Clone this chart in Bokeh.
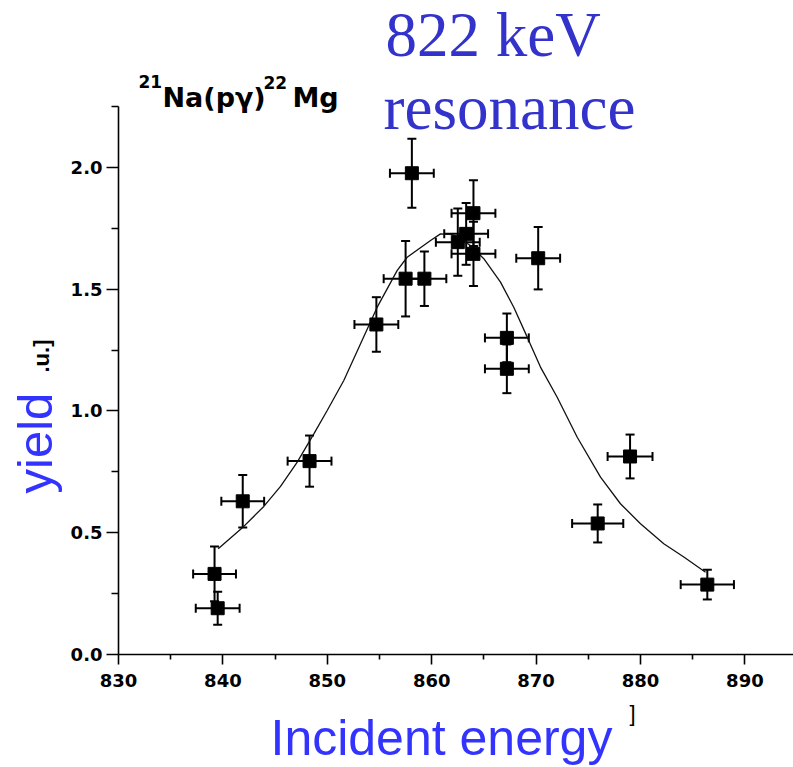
from math import pi

from bokeh.embed import file_html
from bokeh.models import (ColumnDataSource, FixedTicker, Label, PrintfTickFormatter,
                          Range1d, TeeHead, Whisker)
from bokeh.plotting import figure
from bokeh.resources import INLINE

# Measured yield of the 21Na(p,gamma)22Mg resonance scan
energy = [839.2, 839.5, 841.9, 848.3, 854.7, 857.5, 859.3, 858.1, 862.5,
          863.3, 864.0, 864.0, 870.2, 867.2, 867.2, 879.0, 875.9, 886.4]
yield_au = [0.331, 0.190, 0.629, 0.794, 1.355, 1.543, 1.543, 1.976, 1.693,
            1.727, 1.812, 1.645, 1.627, 1.300, 1.173, 0.813, 0.538, 0.287]
yield_err = [0.112, 0.068, 0.108, 0.105, 0.112, 0.155, 0.112, 0.142, 0.138,
             0.127, 0.135, 0.132, 0.128, 0.100, 0.100, 0.090, 0.078, 0.061]
energy_err = [2.05, 2.10, 2.05, 2.10, 2.10, 2.10, 2.10, 2.10, 2.10,
              2.10, 2.10, 2.10, 2.10, 2.10, 2.10, 2.15, 2.45, 2.55]

# Fitted yield curve
fit_energy = [839.55, 842.0, 843.92, 845.52, 847.12, 848.71, 849.99, 851.58,
              854.78, 856.70, 857.65, 859.89, 860.84, 862.0, 863.72, 864.99,
              866.59, 867.86, 869.15, 870.42, 872.02, 873.94, 876.17, 878.08,
              880.0, 882.23, 884.15, 886.23]
fit_yield = [0.434, 0.526, 0.608, 0.690, 0.790, 0.906, 1.002, 1.125,
             1.426, 1.577, 1.631, 1.700, 1.727, 1.724, 1.679, 1.625,
             1.529, 1.426, 1.303, 1.180, 1.056, 0.892, 0.728, 0.619,
             0.537, 0.455, 0.400, 0.338]

x_ticks = [830, 840, 850, 860, 870, 880, 890]
x_minor = [835, 845, 855, 865, 875, 885]
y_ticks = [0.0, 0.5, 1.0, 1.5, 2.0]
y_minor = [0.25, 0.75, 1.25, 1.75, 2.25]

# axes extents (the axes cross at 830 / 0.0)
X_AXIS_START, Y_AXIS_END = 830.0, 2.25

# canvas and scale: the data frame fills the whole canvas so that every
# annotation (titles outside the axes) stays visible
W, H = 793, 767
PX_PER_KEV = 10.44
PX_PER_UNIT = 243.56
ORIGIN_PX = (118, 654)          # canvas pixel of (830, 0.0)

X0 = X_AXIS_START - ORIGIN_PX[0] / PX_PER_KEV
X1 = X_AXIS_START + (W - ORIGIN_PX[0]) / PX_PER_KEV
Y0 = -(H - ORIGIN_PX[1]) / PX_PER_UNIT
Y1 = ORIGIN_PX[1] / PX_PER_UNIT

# the svg text baseline sits lower than the font's alphabetic line;
# pull each label back by this fraction of its font size
BASELINE_SHIFT = 0.37


def px(xp, yp):
    """Canvas pixel position -> data coordinates (for annotation placement)."""
    return X0 + xp / PX_PER_KEV, Y1 - yp / PX_PER_UNIT


p = figure(width=W, height=H, output_backend="svg", toolbar_location=None,
           x_range=Range1d(X0, X1), y_range=Range1d(Y0, Y1),
           min_border=0, background_fill_color="white",
           border_fill_color="white")
p.outline_line_color = None
p.grid.visible = False

for ax in (p.xaxis[0], p.yaxis[0]):
    ax.axis_line_color = "black"
    ax.axis_line_width = 1.6
    ax.major_tick_line_color = "black"
    ax.major_tick_line_width = 1.6
    ax.minor_tick_line_color = "black"
    ax.minor_tick_line_width = 1.6
    ax.major_tick_in = 0
    ax.minor_tick_in = 0
    ax.major_label_text_font = "DejaVu Sans"
    ax.major_label_text_font_style = "bold"
    ax.major_label_text_font_size = "18px"
    ax.major_label_text_color = "black"

p.xaxis.fixed_location = 0.0
p.xaxis.bounds = (X_AXIS_START, X1)
p.xaxis.ticker = FixedTicker(ticks=x_ticks, minor_ticks=x_minor)
p.xaxis.formatter = PrintfTickFormatter(format="%d")
p.xaxis.major_tick_out = 10
p.xaxis.minor_tick_out = 5
p.xaxis.major_label_standoff = 9

p.yaxis.fixed_location = X_AXIS_START
p.yaxis.bounds = (0.0, Y_AXIS_END)
p.yaxis.ticker = FixedTicker(ticks=y_ticks, minor_ticks=y_minor)
p.yaxis.formatter = PrintfTickFormatter(format="%.1f")
p.yaxis.major_tick_out = 12
p.yaxis.minor_tick_out = 7
p.yaxis.major_label_standoff = 4

src = ColumnDataSource(data=dict(
    x=energy, y=yield_au,
    y_lo=[v - e for v, e in zip(yield_au, yield_err)],
    y_hi=[v + e for v, e in zip(yield_au, yield_err)],
    x_lo=[v - e for v, e in zip(energy, energy_err)],
    x_hi=[v + e for v, e in zip(energy, energy_err)],
))

p.line(fit_energy, fit_yield, line_color="#111111", line_width=1.3)

for dim, base, lo, hi in (("height", "x", "y_lo", "y_hi"), ("width", "y", "x_lo", "x_hi")):
    w = Whisker(source=src, base=base, lower=lo, upper=hi, dimension=dim,
                line_color="black", line_width=2,
                upper_head=TeeHead(size=9, line_color="black", line_width=2),
                lower_head=TeeHead(size=9, line_color="black", line_width=2))
    p.add_layout(w)

p.scatter("x", "y", source=src, marker="square", size=13,
          fill_color="black", line_color="black")


def add_text(text, xp, yp, font, size, color, style="normal", vertical=False):
    shift = BASELINE_SHIFT * size
    if vertical:
        xp -= shift
    else:
        yp -= shift
    x, y = px(xp, yp)
    p.add_layout(Label(x=x, y=y, text=text, text_font=font,
                       text_font_size=f"{size}px", text_color=color,
                       text_font_style=style, angle=pi / 2 if vertical else 0.0,
                       text_align="left", text_baseline="alphabetic"))


# reaction title with mass-number superscripts
add_text("21", 138, 87, "DejaVu Sans", 17, "black", "bold")
add_text("Na(p\u03b3)", 162, 107, "DejaVu Sans", 27, "black", "bold")
add_text("22", 263, 88, "DejaVu Sans", 17, "black", "bold")
add_text("Mg", 292, 107, "DejaVu Sans", 27, "black", "bold")

# resonance annotation
add_text("822 keV", 385, 58, "Liberation Serif", 63, "#3333cc")
add_text("resonance", 383, 131, "Liberation Serif", 63, "#3333cc")

# axis titles
add_text("yield", 53, 493, "Liberation Sans", 49, "#3333ff", vertical=True)
add_text(".u.]", 49, 372, "Liberation Sans", 22, "black", "bold", vertical=True)
add_text("Incident energy", 270, 756, "Liberation Sans", 50, "#3333ff")
add_text("]", 629, 721, "Liberation Sans", 22, "black")

open("out.html", "w").write(file_html(p, INLINE))
